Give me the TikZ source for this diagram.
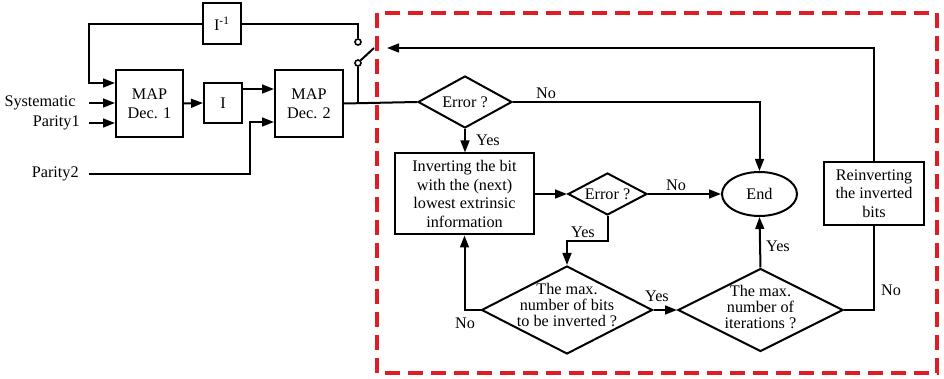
\documentclass[tikz,border=0pt]{standalone}
\usepackage{fontspec}
\setmainfont{Liberation Serif}
\usetikzlibrary{arrows.meta,shapes.geometric}

\definecolor{boxred}{RGB}{222,30,36}

\tikzset{
  every node/.style={font=\fontsize{8.1}{9.3}\selectfont},
  block/.style={draw,line width=1pt,inner sep=1pt,align=center},
  decision/.style={draw,diamond,line width=1pt,inner sep=0pt},
  asktext/.style={align=center,font=\fontsize{8.1}{8.1}\selectfont},
  wire/.style={line width=1pt},
  flow/.style={line width=1pt,-{Triangle[length=6pt,width=4.4pt]}},
  contact/.style={circle,draw,fill=white,line width=0.8pt,inner sep=0pt,minimum size=3pt},
}

\begin{document}
\begin{tikzpicture}[x=0.5pt,y=-0.5pt]
\useasboundingbox (0,0) rectangle (944,379);

    % Turbo decoder
    \node[block,minimum width=19pt,minimum height=20.5pt] (invi) at (222,24) {I\textsuperscript{-1}};
    \node[block,minimum width=33.5pt,minimum height=33.5pt] (dec1) at (149.5,103.5) {MAP\\Dec. 1};
    \node[block,minimum width=19pt,minimum height=20pt] (intl) at (223,103) {I};
    \node[block,minimum width=34pt,minimum height=33.5pt] (dec2) at (309,103.5) {MAP\\Dec. 2};

    % Inputs
    \node[anchor=east,inner sep=0pt] (sys) at (76,103) {Systematic};
    \node[anchor=east,inner sep=0pt] (par1) at (80,123) {Parity1};
    \node[anchor=east,inner sep=0pt] (par2) at (79,174) {Parity2};
    \coordinate (sysin) at (89,103);
    \coordinate (par1in) at (89,123);
    \coordinate (par2in) at (89,174);
    \coordinate (p2turn) at (250,122);
    \draw[flow] (sysin) -- (sysin -| dec1.west);
    \draw[flow] (par1in) -- (par1in -| dec1.west);
    \draw[flow] (par2in) -| (p2turn) -- (p2turn -| dec2.west);
    \draw[flow] (dec1.east) -- (intl.west);
    \draw[flow] ([yshift=7pt]intl.east) -- ([yshift=7pt]intl.east -| dec2.west);

    % Switch and feedback
    \node[contact] (cup) at (358,42) {};
    \node[contact] (clow) at (358,63) {};
    \coordinate (tap) at (358,103);
    \coordinate (blade) at (374,48);
    \coordinate (fbk) at (89,83);
    \draw[wire] (tap) -- (clow.south);
    \draw[wire] (clow.north east) -- (blade);
    \draw[wire] (cup.north) |- (invi.east);
    \draw[flow] (invi.west) -| (fbk) -- (fbk -| dec1.west);

    % Bit flipping
    \node[decision,minimum width=47pt,minimum height=26pt,label=center:Error ?] (err1) at (465,102) {};
    \node[block,minimum width=69.5pt,minimum height=40.5pt] (invbit) at (464.5,194) {Inverting the bit\\with the (next)\\lowest extrinsic\\information};
    \node[decision,minimum width=39.5pt,minimum height=21pt,label=center:Error ?] (err2) at (607.5,194) {};
    \node[draw,ellipse,line width=1pt,minimum width=37.5pt,minimum height=22pt,inner sep=0pt] (end) at (759.5,194) {End};
    \node[decision,minimum width=85.5pt,minimum height=44pt,label={[asktext,yshift=2.5pt]center:The max.\\number of bits\\to be inverted ?}] (maxbits) at (567,310) {};
    \node[decision,minimum width=82.5pt,minimum height=41.5pt,label={[asktext,yshift=1.5pt]center:The max.\\number of\\iterations ?}] (maxit) at (760.5,310) {};
    \node[block,minimum width=50pt,minimum height=31.5pt] (reinv) at (874,193.5) {Reinverting\\the inverted\\bits};
    \coordinate (back) at (387,48);

    \draw[wire] (dec2.east) -- (err1.west);
    \draw[flow] (err1.east) -| (end.north);
    \draw[flow] (err1.south) -- (err1.south |- invbit.north);
    \draw[flow] (invbit.east) -- (err2.west);
    \draw[flow] (err2.east) -- (end.west);
    \draw[flow] (err2.south) -- ++(0,25) -| (maxbits.north);
    \draw[flow] (maxbits.west) -| (invbit.south);
    \draw[flow] (maxbits.east) -- (maxit.west);
    \draw[flow] (maxit.north) -- (end.south);
    \draw[wire] (maxit.east) -| (reinv.south);
    \draw[flow] (reinv.north) |- (back);

    % Labels
    \node (no1) at (546,93) {No};
    \node (yes1) at (488,140) {Yes};
    \node (no2) at (676,185) {No};
    \node (yes2) at (583,232) {Yes};
    \node (no3) at (465,323) {No};
    \node (yes3) at (657,296) {Yes};
    \node (yes4) at (778,246) {Yes};
    \node (no4) at (891,290) {No};

    % Flipping region
    \draw[boxred,line width=2pt,dash pattern=on 7.5pt off 4pt] (377,13) rectangle (937,373);
\end{tikzpicture}
\end{document}
